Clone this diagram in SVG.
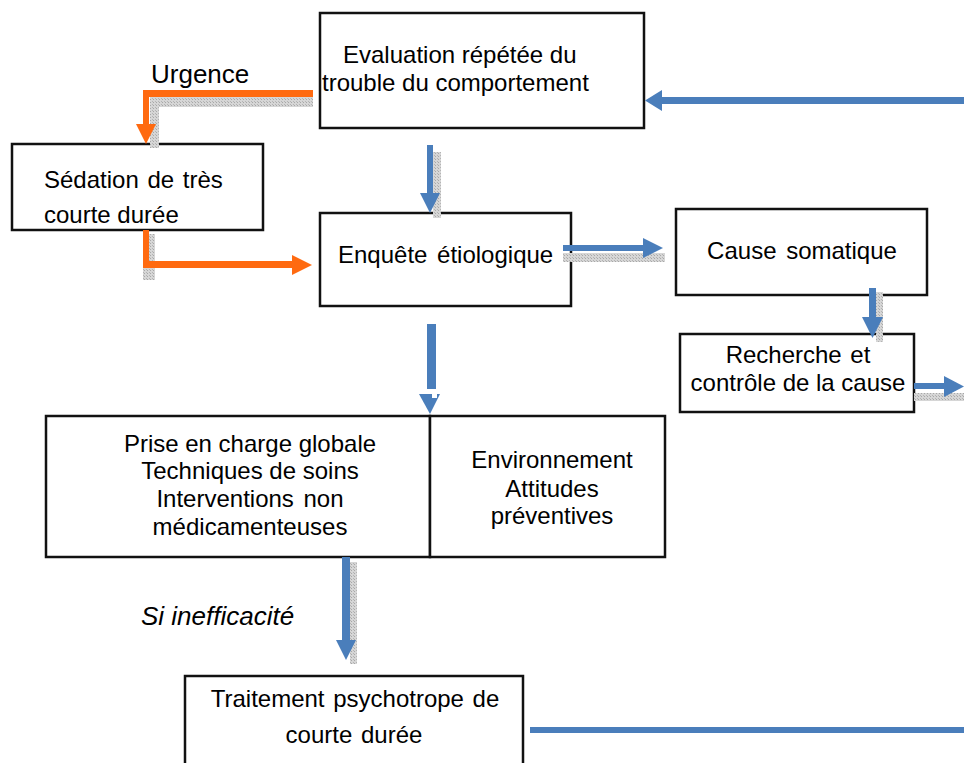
<svg xmlns="http://www.w3.org/2000/svg" width="964" height="763" viewBox="0 0 964 763">
<defs>
<pattern id="sh" width="3" height="3" patternUnits="userSpaceOnUse">
<rect width="3" height="3" fill="#d6d6d6"/>
<rect width="1" height="1" fill="#a8a8a8"/>
<rect x="2" y="2" width="1" height="1" fill="#b4b4b4"/>
</pattern>
<style>
.box{fill:#fff;stroke:#111;stroke-width:2.5}
.t{font-family:"Liberation Sans",Arial,sans-serif;font-size:24px;fill:#000}
.c{text-anchor:middle}
.blue{fill:#4A7EBB}
.org{fill:#FF6A10}
.shd{fill:url(#sh)}
</style>
</defs>
<rect width="964" height="763" fill="#fff"/>

<g id="node-evaluation">
<rect class="box" x="320" y="13" width="324" height="115"/>
<text class="t" x="343" y="63">Evaluation répétée du</text>
<text class="t" x="322" y="91">trouble du comportement</text>
</g>

<g id="node-sedation">
<rect class="box" x="12" y="144" width="251" height="86"/>
<text class="t" x="44" y="188" word-spacing="2">Sédation de très</text>
<text class="t" x="44" y="223">courte durée</text>
</g>

<g id="node-enquete">
<rect class="box" x="320" y="213" width="251" height="93"/>
<text class="t" x="338" y="263" word-spacing="3">Enquête étiologique</text>
</g>

<g id="node-cause">
<rect class="box" x="676" y="209" width="251" height="86"/>
<text class="t c" x="802" y="259" word-spacing="3">Cause somatique</text>
</g>

<g id="node-recherche">
<rect class="box" x="680" y="334" width="234" height="78"/>
<text class="t c" x="798" y="363" word-spacing="2">Recherche et</text>
<text class="t c" x="798" y="391">contrôle de la cause</text>
</g>

<g id="node-prise">
<rect class="box" x="46" y="416" width="384" height="141"/>
<text class="t c" x="250" y="452">Prise en charge globale</text>
<text class="t c" x="250" y="479">Techniques de soins</text>
<text class="t c" x="250" y="507" word-spacing="3">Interventions non</text>
<text class="t c" x="250" y="535">médicamenteuses</text>
</g>

<g id="node-environnement">
<rect class="box" x="430" y="416" width="235" height="141"/>
<text class="t c" x="552" y="468">Environnement</text>
<text class="t c" x="552" y="497">Attitudes</text>
<text class="t c" x="552" y="524">préventives</text>
</g>

<g id="node-traitement">
<rect class="box" x="185" y="676" width="338" height="100"/>
<text class="t c" x="355" y="707" word-spacing="2">Traitement psychotrope de</text>
<text class="t c" x="354" y="743" word-spacing="2">courte durée</text>
</g>

<g id="connectors">
<!-- Urgence: evaluation -> sedation -->
<rect class="shd" x="150" y="97" width="163" height="10"/>
<rect class="shd" x="150" y="97" width="9" height="51"/>
<rect class="org" x="143" y="90" width="170" height="7"/>
<rect class="org" x="143" y="90" width="6" height="34"/>
<polygon class="org" points="136,124 156,124 146,144"/>
<text class="t" x="151" y="83" style="font-size:26px">Urgence</text>

<!-- sedation -> enquete -->
<rect class="shd" x="148" y="234" width="7" height="46"/>
<rect class="shd" x="143" y="268" width="12" height="12"/>
<rect class="org" x="143" y="230" width="6" height="38"/>
<rect class="org" x="143" y="261" width="150" height="7"/>
<polygon class="org" points="292,255 292,275 312,265"/>

<!-- evaluation -> enquete -->
<rect class="shd" x="433" y="152" width="8" height="66"/>
<rect class="blue" x="427" y="145" width="6" height="49"/>
<polygon class="blue" points="420,193 440,193 430,213"/>

<!-- enquete -> cause -->
<rect class="shd" x="563" y="253" width="102" height="9"/>
<rect class="blue" x="563" y="245" width="81" height="6"/>
<polygon class="blue" points="643,238 643,258 663,248"/>

<!-- cause -> recherche -->
<rect class="shd" x="876" y="292" width="7" height="50"/>
<rect class="blue" x="869" y="288" width="7" height="30"/>
<polygon class="blue" points="862,317 883,317 872.5,338"/>

<!-- recherche -> right -->
<rect class="shd" x="914" y="393" width="50" height="8"/>
<rect class="blue" x="914" y="383" width="31" height="6"/>
<polygon class="blue" points="944,376 944,397 964,386.5"/>

<!-- return to evaluation -->
<rect class="blue" x="661" y="97" width="303" height="7"/>
<polygon class="blue" points="662,90 662,111 645,100.5"/>

<!-- enquete -> prise -->
<rect class="blue" x="427" y="324" width="9" height="65"/>
<polygon class="blue" points="419,394 440,394 430,414"/>
<rect x="432" y="394" width="5" height="4" fill="#fff"/>

<!-- prise -> traitement -->
<rect class="shd" x="350" y="562" width="7" height="102"/>
<rect class="blue" x="342" y="557" width="8" height="84"/>
<polygon class="blue" points="336,640 356,640 346,660"/>
<text class="t" x="141" y="625" style="font-size:26px;font-style:italic">Si inefficacité</text>

<!-- traitement -> right -->
<rect class="blue" x="530" y="727" width="434" height="6"/>
</g>
</svg>
